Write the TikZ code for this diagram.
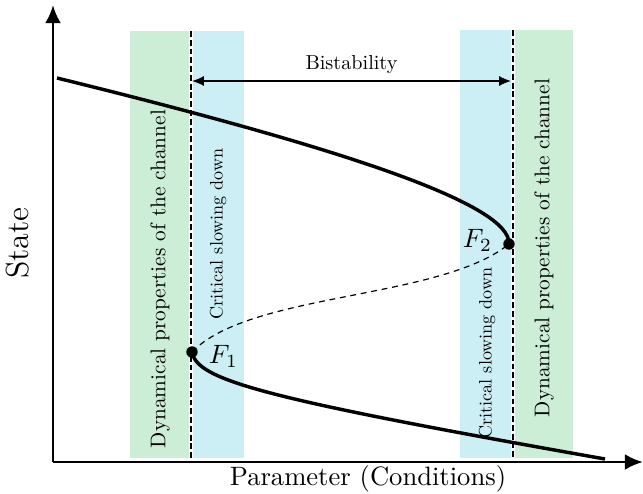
\documentclass[tikz,border=0pt]{standalone}
\usetikzlibrary{positioning, arrows.meta}
\definecolor{channelgreen}{RGB}{204,238,214}
\definecolor{slowblue}{RGB}{204,238,245}

\begin{document}
\begin{tikzpicture}[
    x=0.376pt, y=-0.376pt,
    axis/.style={line width=1.1pt, -{Latex[length=6.8pt, width=6pt]}},
    branch/.style={line width=1.3pt},
    unstable/.style={line width=0.45pt, dash pattern=on 2.2pt off 1.8pt},
    border/.style={line width=0.75pt, dash pattern=on 2.2pt off 1.1pt},
    fold/.style={circle, fill, inner sep=0pt, minimum size=4.3pt},
    band-label/.style={rotate=90}
  ]
\useasboundingbox (0,0) rectangle (643,493);

%% shaded regions on both sides of the two fold points
\fill[channelgreen] (130,31) rectangle (189,458);
\fill[slowblue] (193,31) rectangle (244,458);
\fill[slowblue] (460,30) rectangle (511,458);
\fill[channelgreen] (515,30) rectangle (573,458);

\node[band-label, scale=0.8] (dynL) at (160,279) {Dynamical properties of the channel};
\node[band-label, scale=0.68] (slowL) at (218,234) {Critical slowing down};
\node[band-label, scale=0.68] (slowR) at (487,353) {Critical slowing down};
\node[band-label, scale=0.8] (dynR) at (544,248) {Dynamical properties of the channel};

%% borders of the bistable range
\coordinate (L1) at (191,31);
\coordinate (L2) at (191,460);
\coordinate (R1) at (513,30);
\coordinate (R2) at (513,460);
\draw[border] (L1) -- (L2);
\draw[border] (R1) -- (R2);

%% axes
\coordinate (O) at (53,462);
\coordinate (Ytop) at (53,5);
\coordinate (Xend) at (643,462);
\draw[axis] (O) -- (Ytop);
\draw[axis] (O) -- (Xend);
\node[rotate=90, font=\large] (state) at (18,243) {State};
\node (param) at (368,479) {Parameter (Conditions)};

%% fold points and the three branches
\node[fold] (F1) at (192,352) {};
\node[fold] (F2) at (509,244) {};
\node[left=0.5pt of F2, yshift=1.5pt] {$F_2$};
\node[right=0.5pt of F1, yshift=-1.5pt] {$F_1$};

\coordinate (U) at (57,78);
\coordinate (D) at (605,459);
\draw[branch] (U) .. controls (350,150) and (511,205) .. (F2.center);
\draw[branch] (F1.center) .. controls (197,380) and (260,398) .. (D);
\draw[unstable] (F1.center) .. controls (250,292) and (440,300) .. (F2.center);

%% range of bistability
\coordinate (B1) at (192,81);
\coordinate (B2) at (511,81);
\draw[line width=0.5pt, {Latex[length=4.5pt, width=3.8pt]}-{Latex[length=4.5pt, width=3.8pt]}] (B1) -- node[above=0pt, scale=0.76] (bist) {Bistability} (B2);

\end{tikzpicture}
\end{document}
